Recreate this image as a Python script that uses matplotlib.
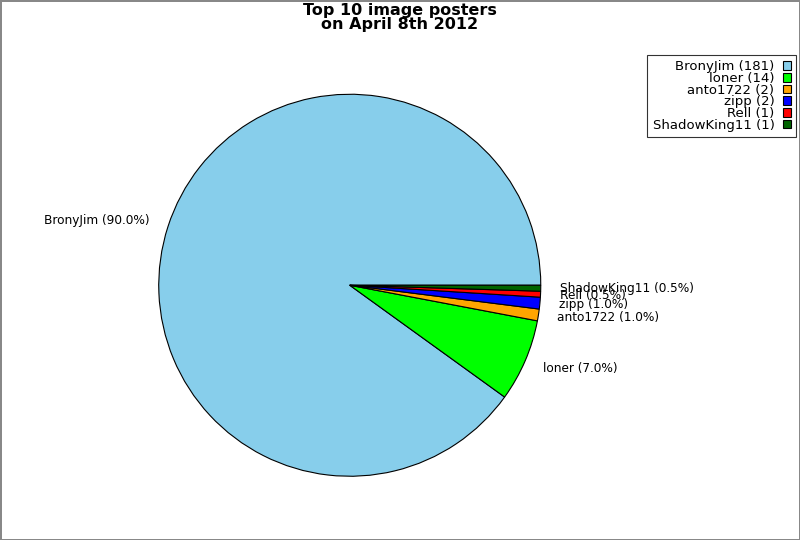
import matplotlib
matplotlib.use("Agg")
import matplotlib.pyplot as plt

users = ["BronyJim", "loner", "anto1722", "zipp", "Rell", "ShadowKing11"]
counts = [181, 14, 2, 2, 1, 1]
colors = ["#87ceeb", "#00ff00", "#ffa500", "#0000ff", "#ff0000", "#006400"]

total = float(sum(counts))
pie_labels = [f"{u} ({100.0 * c / total:.1f}%)" for u, c in zip(users, counts)]
legend_labels = [f"{u} ({c})" for u, c in zip(users, counts)]

fig = plt.figure(figsize=(8, 5.4), dpi=100)
fig.patch.set_edgecolor("#888888")
fig.patch.set_linewidth(2)

ax = fig.add_axes([111 / 800, 16 / 540, 477.5 / 800, 477.5 / 540])
wedges, texts = ax.pie(counts, labels=pie_labels, colors=colors,
                       labeldistance=1.1, startangle=0,
                       wedgeprops={"edgecolor": "black", "linewidth": 0.8},
                       textprops={"fontsize": 8.7})
ax.set_aspect("equal")

fig.text(0.5, 0.995, "Top 10 image posters\non April 8th 2012",
         ha="center", va="top", fontsize=11.5, fontweight="bold",
         linespacing=0.95)

leg = fig.legend(wedges, legend_labels, loc="upper right",
                 bbox_to_anchor=(796 / 800, 1 - 55 / 540),
                 markerfirst=False, fancybox=False, fontsize=9.5,
                 handlelength=0.55, handleheight=0.66, handletextpad=0.68,
                 labelspacing=-0.1, borderpad=0.4, borderaxespad=0)
leg.get_frame().set_edgecolor("black")
leg.get_frame().set_linewidth(0.8)
for t in leg.get_texts():
    t.set_ha("right")
leg._legend_box.align = "right"

fig.savefig("out.png", dpi=100, edgecolor=fig.get_edgecolor())
